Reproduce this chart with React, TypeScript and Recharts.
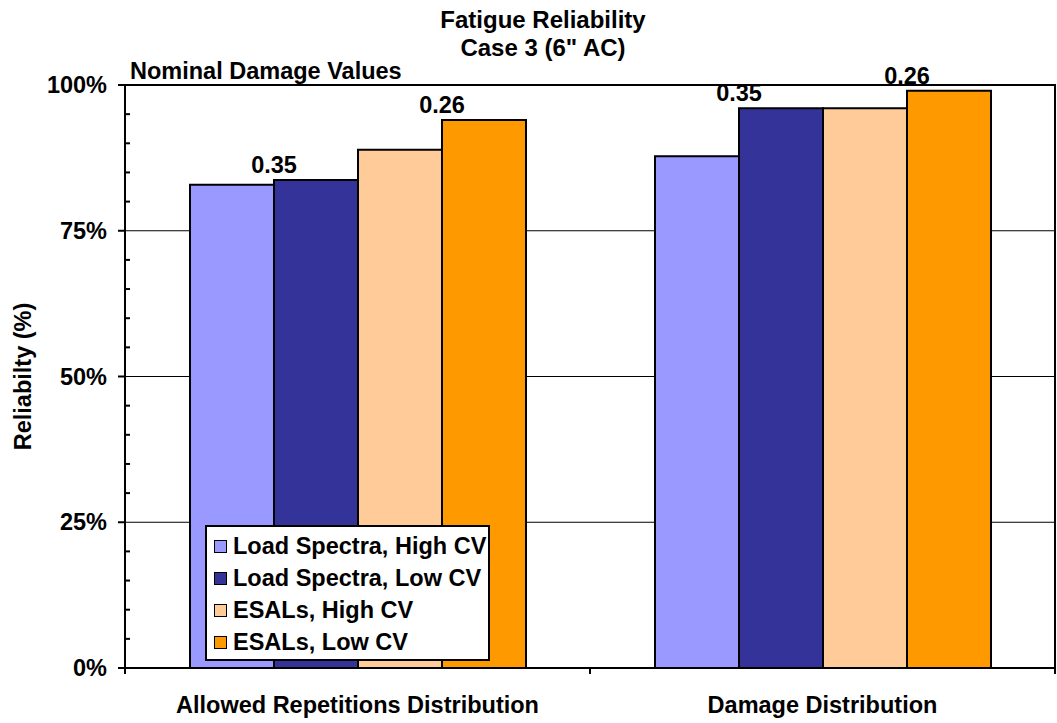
import React from 'react'
import { BarChart, Bar, XAxis, YAxis, CartesianGrid, Legend, LabelList, ReferenceArea } from 'recharts'

// chart data
const categories = ['Allowed Repetitions Distribution', 'Damage Distribution']
const loadSpectraHighCv = [82.9, 87.8]
const loadSpectraLowCv = [83.7, 96.0]
const esalsHighCv = [88.9, 96.0]
const esalsLowCv = [94.0, 99.0]
const loadSpectraDamage = ['0.35', '0.35']
const esalsDamage = ['0.26', '0.26']
const yTicks = [0, 5, 10, 15, 20, 25, 30, 35, 40, 45, 50, 55, 60, 65, 70, 75, 80, 85, 90, 95, 100]

const series = [
  { key: 'lsHigh', name: 'Load Spectra, High CV', color: '#9999FF', values: loadSpectraHighCv },
  { key: 'lsLow', name: 'Load Spectra, Low CV', color: '#333399', values: loadSpectraLowCv },
  { key: 'esHigh', name: 'ESALs, High CV', color: '#FFCC99', values: esalsHighCv },
  { key: 'esLow', name: 'ESALs, Low CV', color: '#FF9900', values: esalsLowCv },
]

const data = categories.map((name, i) => {
  const row: Record<string, any> = { name, lsDamage: loadSpectraDamage[i], esDamage: esalsDamage[i] }
  series.forEach(s => { row[s.key] = s.values[i] })
  return row
})

const FONT = '"Liberation Sans", Arial, sans-serif'
const FS = 23.5
const W = 1057
const H = 723
const PLOT_LEFT = 125
const PLOT_RIGHT = 1055
const PLOT_TOP = 85
const PLOT_BOTTOM = 668
const BAND = (PLOT_RIGHT - PLOT_LEFT) / categories.length

const YTick = (props: any) => {
  const { y, payload } = props
  const v = payload.value
  if (v % 25 === 0) {
    return (
      <g>
        <line x1={PLOT_LEFT - 7} x2={PLOT_LEFT} y1={y} y2={y} stroke="#000" strokeWidth={2} />
        <text x={107} y={y} dy={8} textAnchor="end" fontFamily={FONT} fontWeight="bold" fontSize={FS} fill="#000">
          {v}%
        </text>
      </g>
    )
  }
  return <line x1={PLOT_LEFT} x2={PLOT_LEFT + 5} y1={y} y2={y} stroke="#000" strokeWidth={2} />
}

const XTick = (props: any) => {
  const { x, payload, index } = props
  const left = x - BAND / 2
  return (
    <g>
      <line x1={left} x2={left} y1={PLOT_BOTTOM} y2={PLOT_BOTTOM + 6} stroke="#000" strokeWidth={2} />
      {index === categories.length - 1 && (
        <line x1={x + BAND / 2} x2={x + BAND / 2} y1={PLOT_BOTTOM} y2={PLOT_BOTTOM + 6} stroke="#000" strokeWidth={2} />
      )}
      <text x={x} y={713} textAnchor="middle" fontFamily={FONT} fontWeight="bold" fontSize={FS} fill="#000">
        {payload.value}
      </text>
    </g>
  )
}

// damage value drawn at the left edge of the low-CV bar, a bit above its top
const DamageLabel = (props: any) => {
  const { x, y, value } = props
  return (
    <text x={x} y={y - 7} textAnchor="middle" fontFamily={FONT} fontWeight="bold" fontSize={FS} fill="#000">
      {value}
    </text>
  )
}

const LegendBox = () => (
  <div
    style={{
      border: '2px solid #000',
      background: '#fff',
      width: 281,
      height: 129,
      boxSizing: 'content-box',
      paddingTop: 3,
      fontFamily: FONT,
      fontWeight: 'bold',
      fontSize: FS,
      color: '#000',
      textAlign: 'left',
    }}
  >
    {series.map(s => (
      <div key={s.key} style={{ display: 'flex', alignItems: 'center', height: 32, whiteSpace: 'nowrap' }}>
        <span
          style={{
            display: 'inline-block',
            width: 11,
            height: 11,
            background: s.color,
            border: '1.5px solid #000',
            marginLeft: 7,
            marginRight: 6,
          }}
        />
        {s.name}
      </div>
    ))}
  </div>
)

export default function App() {
  return (
    <div style={{ position: 'absolute', left: 0, top: 0, width: W, height: H, background: '#fff' }}>
      <svg width={W} height={H} style={{ position: 'absolute', left: 0, top: 0 }}>
        <text x={543} y={28} textAnchor="middle" fontFamily={FONT} fontWeight="bold" fontSize={24}>
          Fatigue Reliability
        </text>
        <text x={543} y={56} textAnchor="middle" fontFamily={FONT} fontWeight="bold" fontSize={24}>
          Case 3 (6" AC)
        </text>
        <text x={130} y={79} fontFamily={FONT} fontWeight="bold" fontSize={FS}>
          Nominal Damage Values
        </text>
        <text
          x={23}
          y={(PLOT_TOP + PLOT_BOTTOM) / 2}
          transform={`rotate(-90 23 ${(PLOT_TOP + PLOT_BOTTOM) / 2})`}
          dy={8}
          textAnchor="middle"
          fontFamily={FONT}
          fontWeight="bold"
          fontSize={FS}
        >
          Reliabilty (%)
        </text>
      </svg>
      <div style={{ position: 'absolute', left: 0, top: 0 }}>
        <BarChart
          width={W}
          height={H}
          data={data}
          margin={{ top: PLOT_TOP, right: W - PLOT_RIGHT, bottom: 0, left: 0 }}
          barGap={0}
          barSize={84}
          style={{ background: 'transparent' }}
        >
          <CartesianGrid horizontalValues={[25, 50, 75]} vertical={false} stroke="#000" strokeWidth={1} />
          <ReferenceArea y1={0} y2={100} fill="none" stroke="#000" strokeWidth={2} />
          <XAxis
            dataKey="name"
            height={H - PLOT_BOTTOM}
            axisLine={{ stroke: '#000', strokeWidth: 2 }}
            tickLine={false}
            tick={<XTick />}
            interval={0}
          />
          <YAxis
            width={PLOT_LEFT}
            domain={[0, 100]}
            ticks={yTicks}
            interval={0}
            axisLine={{ stroke: '#000', strokeWidth: 2 }}
            tickLine={false}
            tick={<YTick />}
          />
          {series.map(s => (
            <Bar
              key={s.key}
              dataKey={s.key}
              name={s.name}
              fill={s.color}
              stroke="#000"
              strokeWidth={2}
              isAnimationActive={false}
            >
              {s.key === 'lsLow' && <LabelList dataKey="lsDamage" content={<DamageLabel />} />}
              {s.key === 'esLow' && <LabelList dataKey="esDamage" content={<DamageLabel />} />}
            </Bar>
          ))}
          <Legend
            layout="horizontal"
            verticalAlign="middle"
            align="center"
            content={<LegendBox />}
            wrapperStyle={{ left: 205, top: 525, width: 'auto', height: 'auto' }}
          />
        </BarChart>
      </div>
    </div>
  )
}
